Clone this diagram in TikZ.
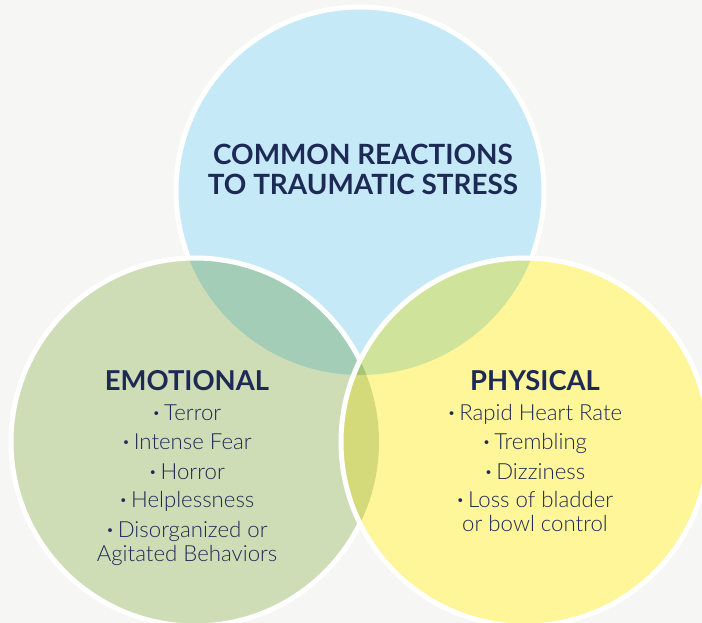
\documentclass[tikz,border=0pt]{standalone}
\usepackage{fontspec}
\setmainfont{Lato}
\newfontfamily\headfont{Lato}[UprightFont=* Bold]
\newfontfamily\bodyfont{Lato Light}
\definecolor{bgc}{HTML}{F6F6F4}
\definecolor{cblue}{HTML}{C6E9F8}
\definecolor{cgreen}{HTML}{CFDDB7}
\definecolor{cyel}{HTML}{FFF599}
\definecolor{cbg}{HTML}{A3CDB7}
\definecolor{cby}{HTML}{D0E39B}
\definecolor{cgy}{HTML}{D4DA7A}
\definecolor{cbgy}{HTML}{A5C775}
\definecolor{navy}{HTML}{1E2A56}
\newcommand{\bul}{\raisebox{2.2bp}{\fontsize{13}{13}\selectfont•}\kern4bp}
\tikzset{
  ring/.style={draw=white, line width=5bp},
  title/.style={anchor=base, text=navy, inner sep=0pt, font=\headfont\fontsize{28}{30}\selectfont},
  head/.style={anchor=base, text=navy, inner sep=0pt, font=\headfont\fontsize{27.5}{28}\selectfont},
  item/.style={anchor=base, text=navy, inner sep=0pt, font=\bodyfont\fontsize{22.3}{24}\selectfont},
}
\begin{document}
\begin{tikzpicture}[x=1bp,y=-1bp]
\def\R{184}
\useasboundingbox (0,0) rectangle (702,623);
\fill[bgc] (0,0) rectangle (702,623);
\coordinate (cb) at (360,191);
\coordinate (cg) at (195,442);
\coordinate (cy) at (525,442);
% blue
\fill[cblue] (cb) circle[radius=\R];
\draw[ring] (cb) circle[radius=\R];
% green
\fill[cgreen] (cg) circle[radius=\R];
\begin{scope}
  \clip (cg) circle[radius=\R];
  \fill[cbg] (cb) circle[radius=\R];
\end{scope}
\draw[ring] (cg) circle[radius=\R];
% yellow
\fill[cyel] (cy) circle[radius=\R];
\begin{scope}
  \clip (cy) circle[radius=\R];
  \fill[cby] (cb) circle[radius=\R];
  \fill[cgy] (cg) circle[radius=\R];
  \clip (cg) circle[radius=\R];
  \fill[cbgy] (cb) circle[radius=\R];
\end{scope}
\draw[ring] (cy) circle[radius=\R];
% texts
\node[title] (t1) at (363,165) {COMMON REACTIONS};
\node[title] (t2) at (363,195) {TO TRAUMATIC STRESS};
\node[head] (eh) at (187,390) {EMOTIONAL};
\node[item] (e1) at (187,420) {\bul Terror};
\node[item] (e2) at (187,449) {\bul Intense Fear};
\node[item] (e3) at (187,479) {\bul Horror};
\node[item] (e4) at (187,507) {\bul Helplessness};
\node[item] (e5) at (187,537) {\bul Disorganized or};
\node[item] (e6) at (187,561) {Agitated Behaviors};
\node[head] (ph) at (535,390) {PHYSICAL};
\node[item] (p1) at (535,420) {\bul Rapid Heart Rate};
\node[item] (p2) at (535,449) {\bul Trembling};
\node[item] (p3) at (535,479) {\bul Dizziness};
\node[item] (p4) at (535,507) {\bul Loss of bladder};
\node[item] (p5) at (535,531) {or bowl control};
\end{tikzpicture}
\end{document}
